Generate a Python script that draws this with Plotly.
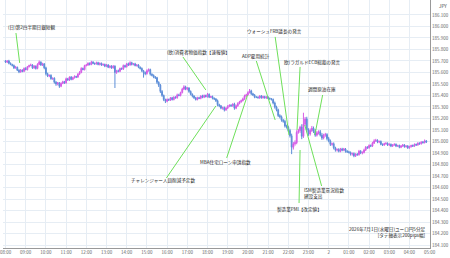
import plotly.graph_objects as go
import pandas as pd

# ---- data (EUR/JPY 5-minute candles, 2026-07-01 08:00 JST onward) ----
start_time = "2026-07-01 08:00"
first_open = 185.70
closes = [
    185.69, 185.70, 185.68, 185.67, 185.66, 185.64, 185.645, 185.62, 185.605, 185.62,
    185.61, 185.635, 185.625, 185.65, 185.66, 185.665, 185.64, 185.655, 185.635, 185.67,
    185.69, 185.665, 185.675, 185.64, 185.59, 185.57, 185.575, 185.545, 185.55, 185.515,
    185.50, 185.51, 185.48, 185.505, 185.52, 185.51, 185.545, 185.535, 185.56, 185.54,
    185.555, 185.565, 185.56, 185.585, 185.60, 185.635, 185.625, 185.66, 185.665, 185.68,
    185.67, 185.69, 185.68, 185.675, 185.685, 185.67, 185.68, 185.665, 185.67, 185.655,
    185.665, 185.645, 185.655, 185.64, 185.655, 185.60, 185.615, 185.61, 185.635, 185.63,
    185.66, 185.65, 185.675, 185.665, 185.685, 185.67, 185.675, 185.66, 185.665, 185.645,
    185.635, 185.615, 185.60, 185.59, 185.615, 185.625, 185.585, 185.575, 185.56, 185.555,
    185.515, 185.49, 185.435, 185.40, 185.365, 185.35, 185.365, 185.36, 185.38, 185.365,
    185.385, 185.38, 185.405, 185.40, 185.425, 185.455, 185.475, 185.455, 185.465, 185.435,
    185.41, 185.395, 185.38, 185.365, 185.38, 185.375, 185.395, 185.385, 185.40, 185.39,
    185.41, 185.385, 185.39, 185.375, 185.37, 185.355, 185.32, 185.31, 185.29, 185.295,
    185.275, 185.29, 185.305, 185.315, 185.31, 185.325, 185.29, 185.31, 185.33, 185.345,
    185.355, 185.37, 185.395, 185.405, 185.425, 185.44, 185.415, 185.405, 185.385, 185.385,
    185.38, 185.395, 185.38, 185.39, 185.38, 185.385, 185.375, 185.37, 185.365, 185.335,
    185.30, 185.275, 185.225, 185.215, 185.185, 185.175, 185.135, 185.125, 185.095, 185.05,
    184.95, 184.98, 184.99, 185.08, 185.095, 185.125, 185.045, 185.15, 185.195, 185.10,
    185.065, 185.095, 185.115, 185.09, 185.055, 185.075, 185.085, 185.055, 185.03, 185.055,
    185.06, 185.025, 185.005, 184.975, 184.98, 184.945, 184.925, 184.93, 184.915, 184.935,
    184.925, 184.935, 184.915, 184.91, 184.905, 184.89, 184.895, 184.875, 184.89, 184.885,
    184.915, 184.90, 184.905, 184.925, 184.95, 184.945, 184.965, 184.96, 184.985, 185.005,
    185.01, 184.995, 185.00, 184.975, 184.97, 184.98, 184.985, 184.97, 184.975, 184.96,
    184.97, 184.975, 184.96, 184.965, 184.95, 184.96, 184.97, 184.955, 184.96, 184.945,
    184.955, 184.965, 184.96, 184.975, 184.97, 184.985, 184.98, 184.995, 184.99, 185.005,
    184.995,
]
# upper / lower wick lengths (in 0.001 JPY)
upper_wick = [
    8, 6, 10, 7, 5, 9, 12, 6, 8, 10, 7, 9, 11, 6, 8, 12, 7, 9, 6, 10,
    14, 7, 9, 6, 10, 8, 7, 9, 6, 8, 10, 7, 6, 9, 8, 7, 10, 8, 6, 9,
    8, 10, 7, 9, 12, 10, 8, 7, 9, 8, 7, 11, 8, 6, 9, 8, 7, 6, 8, 7,
    9, 8, 7, 8, 9, 7, 8, 10, 7, 8, 9, 7, 8, 11, 12, 8, 7, 9, 8, 7,
    8, 9, 7, 8, 12, 10, 8, 7, 8, 9, 7, 8, 10, 12, 8, 7, 9, 8, 7, 8,
    9, 8, 11, 10, 8, 12, 14, 10, 8, 7, 9, 8, 7, 8, 9, 8, 7, 11, 8, 7,
    12, 8, 7, 9, 8, 7, 10, 8, 7, 8, 9, 8, 11, 8, 9, 7, 12, 10, 11, 8,
    9, 11, 12, 10, 11, 16, 10, 8, 7, 9, 8, 7, 9, 8, 7, 9, 8, 7, 8, 9,
    12, 11, 10, 12, 11, 10, 14, 11, 12, 15, 18, 15, 20, 18, 15, 12, 25, 100, 18, 20,
    15, 18, 20, 15, 18, 15, 12, 15, 18, 12, 15, 12, 15, 12, 10, 12, 9, 10, 12, 9,
    10, 9, 8, 10, 9, 8, 9, 10, 8, 9, 12, 10, 9, 12, 10, 9, 10, 9, 12, 14,
    13, 9, 8, 9, 8, 9, 8, 7, 9, 8, 7, 9, 8, 7, 8, 9, 8, 7, 8, 9,
    8, 7, 9, 8, 7, 9, 8, 7, 9, 12, 8,
]
lower_wick = [
    7, 8, 9, 7, 8, 10, 7, 8, 11, 7, 8, 7, 6, 8, 7, 6, 9, 8, 10, 7,
    6, 8, 9, 12, 15, 10, 11, 8, 9, 12, 16, 12, 14, 8, 7, 9, 8, 7, 9, 8,
    7, 8, 9, 7, 8, 7, 6, 8, 7, 8, 9, 7, 8, 9, 7, 8, 9, 8, 7, 9,
    8, 7, 9, 8, 7, 135, 12, 9, 8, 7, 8, 9, 7, 8, 6, 9, 8, 7, 9, 8,
    9, 12, 45, 14, 9, 8, 12, 9, 10, 12, 14, 16, 14, 12, 14, 16, 9, 8, 7, 9,
    8, 7, 8, 7, 8, 7, 8, 9, 10, 12, 9, 12, 10, 9, 8, 7, 8, 9, 8, 7,
    9, 8, 7, 9, 10, 12, 14, 12, 10, 13, 14, 9, 8, 7, 9, 8, 14, 9, 8, 7,
    8, 7, 8, 9, 8, 7, 12, 10, 9, 8, 7, 9, 8, 7, 8, 9, 8, 7, 9, 12,
    14, 13, 12, 14, 13, 12, 14, 13, 12, 16, 60, 20, 16, 14, 12, 20, 25, 14, 16, 20,
    16, 14, 12, 16, 14, 12, 14, 12, 16, 12, 14, 16, 12, 14, 12, 14, 13, 12, 10, 9,
    10, 9, 12, 10, 9, 12, 13, 12, 10, 9, 8, 10, 12, 9, 8, 9, 8, 9, 8, 7,
    9, 10, 9, 8, 9, 8, 7, 9, 8, 9, 8, 7, 9, 8, 9, 8, 7, 9, 8, 10,
    8, 7, 8, 7, 8, 7, 8, 7, 8, 7, 8,
]

x_tick_labels = ["08:00", "09:00", "10:00", "11:00", "12:00", "13:00", "14:00", "15:00",
                 "16:00", "17:00", "18:00", "19:00", "20:00", "21:00", "22:00", "23:00",
                 "2", "01:00", "02:00", "03:00", "04:00", "05:00"]
y_tick_values = [184.1, 184.2, 184.3, 184.4, 184.5, 184.6, 184.7, 184.8, 184.9, 185.0,
                 185.1, 185.2, 185.3, 185.4, 185.5, 185.6, 185.7, 185.8, 185.9, 186.0, 186.1]

# events: label text, label time, label price, line start (time, price), line end (time, price)
event_text = ["(日)第2四半期日銀短観", "(欧)消費者物価指数【速報値】", "ADP雇用統計",
              "ウォーシュFRB議長の発言", "欧)ラガルドECB総裁の発言", "週間原油在庫",
              "製造業PMI【改定値】", "ISM製造業景況指数<br>建設支出",
              "MBA住宅ローン申請指数", "チャレンジャー人員削減予定数"]
event_label_time = ["2026-07-01 08:01", "2026-07-01 17:33", "2026-07-01 20:25",
                    "2026-07-01 21:18", "2026-07-01 23:11", "2026-07-01 23:41",
                    "2026-07-01 22:32", "2026-07-01 22:41", "2026-07-01 18:54",
                    "2026-07-01 15:47"]
event_label_price = [185.987, 185.770, 185.735, 185.952, 185.683, 185.448,
                     184.413, 184.548, 184.813, 184.657]
event_label_anchor = ["left", "center", "center", "center", "center", "center",
                      "center", "left", "center", "center"]
line_start_time = ["2026-07-01 08:31", "2026-07-01 16:47", "2026-07-01 20:25",
                   "2026-07-01 21:21", "2026-07-01 22:35", "2026-07-01 23:42",
                   "2026-07-01 22:32", "2026-07-01 23:39", "2026-07-01 18:57",
                   "2026-07-01 15:58"]
line_start_price = [185.943, 185.735, 185.700, 185.909, 185.648, 185.404,
                    184.465, 184.613, 184.857, 184.683]
line_end_time = ["2026-07-01 08:42", "2026-07-01 17:55", "2026-07-01 21:21",
                 "2026-07-01 22:02", "2026-07-01 22:26", "2026-07-01 23:19",
                 "2026-07-01 22:35", "2026-07-01 22:49", "2026-07-01 19:59",
                 "2026-07-01 18:25"]
line_end_price = [185.683, 185.448, 185.187, 185.057, 185.100, 185.057,
                  184.926, 185.143, 185.404, 185.309]

title_lines = ["2026年7月1日(水曜日)ユーロ円5分足", "[タテ軸表示200pips幅]"]

# ---- build candles ----
times = pd.date_range(start_time, periods=len(closes), freq="5min")
opens = [first_open] + closes[:-1]
highs = [max(o, c) + u / 1000 for o, c, u in zip(opens, closes, upper_wick)]
lows = [min(o, c) - d / 1000 for o, c, d in zip(opens, closes, lower_wick)]

FONT = "Noto Sans CJK JP"
UP = "#d65ce6"
DOWN = "#5d8ed8"
GREEN = "#6ee05a"

fig = go.Figure()
fig.add_trace(go.Candlestick(
    x=times, open=opens, high=highs, low=lows, close=closes,
    increasing=dict(line=dict(color=UP, width=1), fillcolor=UP),
    decreasing=dict(line=dict(color=DOWN, width=1), fillcolor=DOWN),
    whiskerwidth=0, showlegend=False, hoverinfo="skip",
))

tick_times = pd.date_range(start_time, periods=len(x_tick_labels), freq="60min")

for i, txt in enumerate(event_text):
    fig.add_shape(type="line", xref="x", yref="y",
                  x0=line_start_time[i], y0=line_start_price[i],
                  x1=line_end_time[i], y1=line_end_price[i],
                  line=dict(color=GREEN, width=1))
    fig.add_annotation(x=event_label_time[i], y=event_label_price[i], xref="x", yref="y",
                       text=txt, showarrow=False, xanchor=event_label_anchor[i],
                       align="left", yanchor="middle",
                       font=dict(family=FONT, size=4.6, color="#222222"))

fig.add_annotation(x=428 / 430, y=1 - 241 / 248, xref="paper", yref="paper",
                   text="<br>".join(title_lines), showarrow=False,
                   xanchor="right", yanchor="bottom", align="right",
                   font=dict(family=FONT, size=4.6, color="#222222"))
fig.add_annotation(x=437 / 430, y=1 - 6 / 248, xref="paper", yref="paper",
                   text="JPY", showarrow=False, xanchor="left", yanchor="middle",
                   font=dict(family=FONT, size=4.6, color="#444444"))

fig.update_layout(
    width=450, height=258,
    margin=dict(l=0, r=20, t=0, b=10),
    paper_bgcolor="white", plot_bgcolor="white",
    font=dict(family=FONT, size=4.5, color="#666666"),
    xaxis=dict(
        rangeslider=dict(visible=False),
        range=["2026-07-01 07:52:30", "2026-07-02 05:01"],
        tickvals=tick_times, ticktext=x_tick_labels,
        ticklabeloverflow="allow",
        showgrid=True, gridcolor="#e6edf4", gridwidth=1,
        showline=True, linecolor="#999999", linewidth=1,
        ticks="", tickfont=dict(size=4.5, color="#666666"),
        zeroline=False,
    ),
    yaxis=dict(
        side="right", range=[184.074, 186.23],
        tickvals=y_tick_values, tickformat=".3f",
        showgrid=True, gridcolor="#e6edf4", gridwidth=1,
        showline=True, linecolor="#999999", linewidth=1,
        ticks="", tickfont=dict(size=4.5, color="#666666"),
        zeroline=False,
    ),
)

fig.write_html("out.html")
